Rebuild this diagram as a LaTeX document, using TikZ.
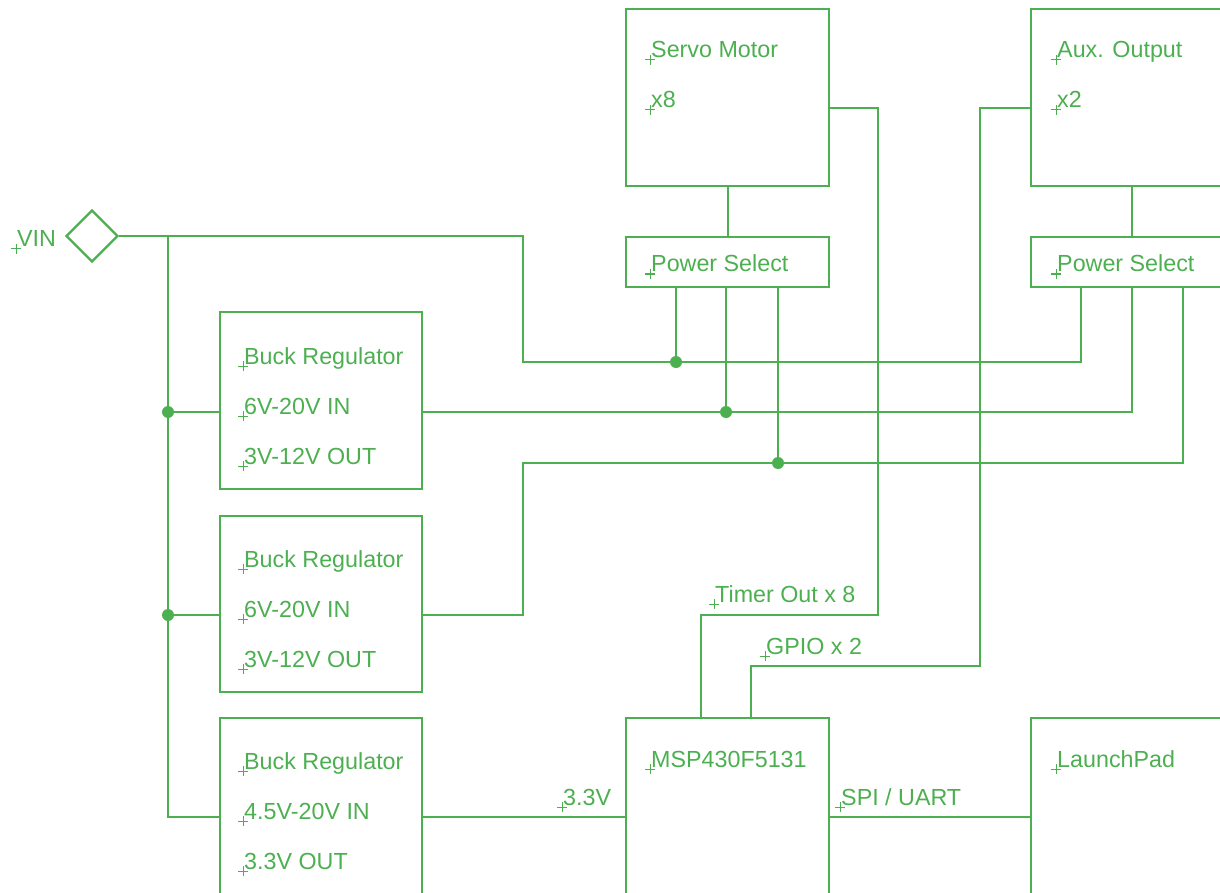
\documentclass[tikz,border=0pt]{standalone}
\usepackage{fontspec}
\setmainfont{Liberation Sans}
\usetikzlibrary{shapes.geometric}
\definecolor{eg}{RGB}{76,175,80}
\newcommand\mylab[4]{%
  \draw[crossmk] ({#1-5},#2) -- ({#1+5},#2) ({#1},{#2-5}) -- ({#1},{#2+5});
  \node[lbl] (#3) at ({#1+1},{#2-2}) {#4};}
\begin{document}
\begin{tikzpicture}[x=1pt,y=-1pt,
  wire/.style={draw=eg,line width=2.2pt},
  box/.style={draw=eg,line width=2.2pt,rectangle,anchor=north west,inner sep=0,minimum width=203pt,minimum height=177pt},
  psbox/.style={box,minimum height=50pt},
  lbl/.style={anchor=base west,inner sep=0,text=eg,font=\fontsize{23.3}{28}\selectfont},
  dotj/.style={circle,fill=eg,inner sep=0,minimum size=12pt},
  crossmk/.style={draw=eg,line width=1pt}]
\path[use as bounding box] (0,0) rectangle (1220,893);
\clip (0,0) rectangle (1220,893);

% boxes
\node[box] (servo) at (625,8) {};
\node[box] (aux) at (1030,8) {};
\node[psbox] (ps1) at (625,236) {};
\node[psbox] (ps2) at (1030,236) {};
\node[box,minimum width=202pt] (buck1) at (219,311) {};
\node[box,minimum width=202pt,minimum height=176pt] (buck2) at (219,515) {};
\node[box,minimum width=202pt] (buck3) at (219,717) {};
\node[box] (msp) at (625,717) {};
\node[box] (lp) at (1030,717) {};
\node[diamond,draw=eg,line width=2.2pt,inner sep=0,minimum width=52pt,minimum height=52pt] (vin) at (92,236) {};

% labels
\mylab{16}{249}{tvin}{VIN}
\mylab{650}{60}{tservo}{Servo Motor}
\mylab{650}{110}{tservox}{x8}
\mylab{1056}{60}{taux}{Aux. Output}
\mylab{1056}{110}{tauxx}{x2}
\mylab{650}{274}{tps1}{Power Select}
\mylab{1056}{274}{tps2}{Power Select}
\mylab{243}{366}{tb1a}{Buck Regulator}
\mylab{243}{416}{tb1b}{6V-20V IN}
\mylab{243}{466}{tb1c}{3V-12V OUT}
\mylab{243}{569}{tb2a}{Buck Regulator}
\mylab{243}{619}{tb2b}{6V-20V IN}
\mylab{243}{669}{tb2c}{3V-12V OUT}
\mylab{243}{771}{tb3a}{Buck Regulator}
\mylab{243}{821}{tb3b}{4.5V-20V IN}
\mylab{243}{871}{tb3c}{3.3V OUT}
\mylab{650}{769}{tmsp}{MSP430F5131}
\mylab{1056}{769}{tlp}{LaunchPad}
\mylab{562}{807}{t33}{3.3V}
\mylab{840}{807}{tspi}{SPI / UART}
\mylab{714}{604}{ttim}{Timer Out x 8}
\mylab{765}{656}{tgpio}{GPIO x 2}

% coordinates
\coordinate (bt) at (168,236);
\coordinate (j1) at (676,362);
\coordinate (j2) at (726,412);
\coordinate (j3) at (778,463);
\coordinate (b1) at (168,412);
\coordinate (b2) at (168,615);

% servo/aux to power select
\draw[wire] (servo.south) -- (ps1.north);
\draw[wire] (aux.south -| 1132,0) -- (ps2.north -| 1132,0);

% VIN net
\draw[wire] (vin.east) -- (523,236) -- (523,362) -- (1081,362) -- (ps2.south -| 1081,0);
\draw[wire] (bt) -- (168,817) -- (buck3.west |- 0,817);
\draw[wire] (b1) -- (buck1.west |- b1);
\draw[wire] (b2) -- (buck2.west |- b2);
\draw[wire] (ps1.south -| j1) -- (j1);

% buck1 out
\draw[wire] (buck1.east |- j2) -- (1132,412) -- (ps2.south -| 1132,0);
\draw[wire] (ps1.south -| j2) -- (j2);

% buck2 out
\draw[wire] (buck2.east |- b2) -- (523,615) -- (523,463) -- (1183,463) -- (ps2.south -| 1183,0);
\draw[wire] (ps1.south -| j3) -- (j3);

% buck3 to msp
\draw[wire] (buck3.east |- 0,817) -- (msp.west |- 0,817);
% spi
\draw[wire] (msp.east |- 0,817) -- (lp.west |- 0,817);

% timer out
\draw[wire] (servo.east |- 0,108) -- (878,108) -- (878,615) -- (701,615) -- (msp.north -| 701,0);
% gpio
\draw[wire] (aux.west |- 0,108) -- (980,108) -- (980,666) -- (751,666) -- (msp.north -| 751,0);

% junctions
\foreach \p in {j1,j2,j3,b1,b2} \node[dotj] at (\p) {};
\end{tikzpicture}
\end{document}
